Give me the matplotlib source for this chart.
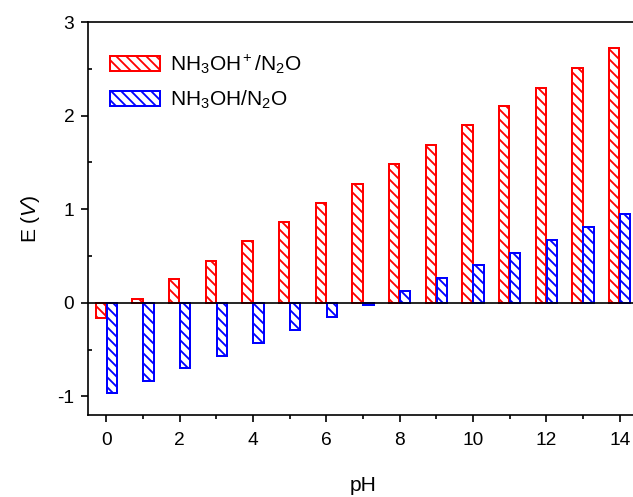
import numpy as np
import matplotlib
matplotlib.use("Agg")
import matplotlib.pyplot as plt
from matplotlib.ticker import MultipleLocator

plt.rcParams['font.family'] = ['Liberation Sans', 'DejaVu Sans']
plt.rcParams['mathtext.fontset'] = 'custom'
plt.rcParams['mathtext.rm'] = 'Liberation Sans'
plt.rcParams['mathtext.it'] = 'Liberation Sans:italic'
plt.rcParams['axes.unicode_minus'] = False
plt.rcParams['hatch.linewidth'] = 1.1

# Reduction potential vs pH for the two hydroxylamine couples
ph = np.arange(0, 15)
e_cation = [-0.16, 0.04, 0.25, 0.45, 0.66, 0.86, 1.07, 1.27,
            1.48, 1.69, 1.90, 2.10, 2.30, 2.51, 2.72]
e_neutral = [-0.97, -0.84, -0.70, -0.57, -0.43, -0.29, -0.15, -0.02,
             0.12, 0.26, 0.40, 0.53, 0.67, 0.81, 0.95]
labels = ['NH$_3$OH$^+$/N$_2$O', 'NH$_3$OH/N$_2$O']

dpi = 120
fig = plt.figure(figsize=(633 / dpi, 497 / dpi), dpi=dpi)
ax = fig.add_axes([88 / 633, 82 / 497, 550 / 633, 393 / 497])

w = 0.28
hatch = '\\' * 4
ax.bar(ph - 0.15, e_cation, width=w, facecolor='white', edgecolor='red',
       hatch=hatch, linewidth=1.2, label=labels[0], zorder=2)
ax.bar(ph + 0.15, e_neutral, width=w, facecolor='white', edgecolor='blue',
       hatch=hatch, linewidth=1.2, label=labels[1], zorder=2)
ax.axhline(0, color='black', linewidth=1.0, zorder=3)

ax.set_xlim(-0.5, 14.5)
ax.set_ylim(-1.2, 3)
ax.xaxis.set_major_locator(MultipleLocator(2))
ax.xaxis.set_minor_locator(MultipleLocator(1))
ax.yaxis.set_major_locator(MultipleLocator(1))
ax.yaxis.set_minor_locator(MultipleLocator(0.5))
ax.tick_params(which='major', direction='out', length=4.2, width=1.0,
               labelsize=11.5, top=False, right=False)
ax.tick_params(which='minor', direction='out', length=2.6, width=1.0,
               top=False, right=False)
ax.tick_params(axis='y', which='minor', right=True, direction='in')
ax.tick_params(axis='x', pad=6)
ax.tick_params(axis='y', pad=4)
for s in ax.spines.values():
    s.set_linewidth(1.0)

ax.set_xlabel('pH', fontsize=12.6, labelpad=16)
ax.set_ylabel('E ($V$)', fontsize=12.6, labelpad=9)

ax.legend(loc='upper left', bbox_to_anchor=(110 / 633, 1 - 53 / 497),
          bbox_transform=fig.transFigure, frameon=False, fontsize=12.5,
          handlelength=2.4, handleheight=0.75, handletextpad=0.5,
          labelspacing=0.6, borderpad=0, borderaxespad=0)

fig.savefig('out.png', dpi=dpi)
